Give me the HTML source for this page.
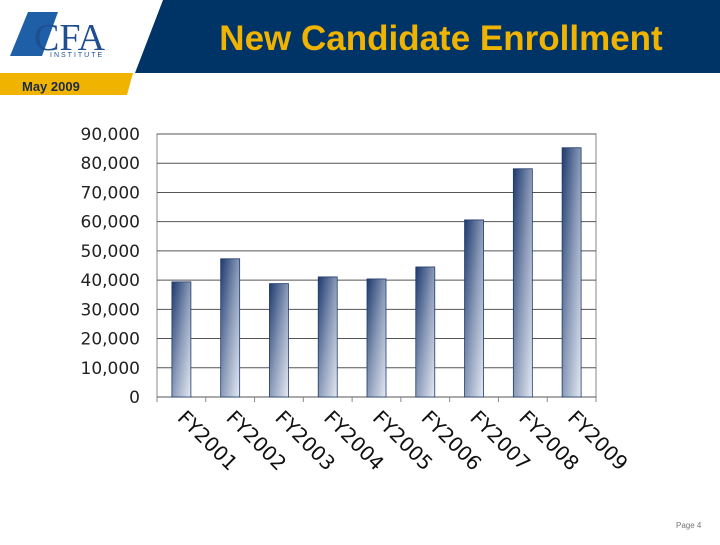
<!DOCTYPE html>
<html><head><meta charset="utf-8"><style>
body{margin:0;width:720px;height:540px;background:#fff;overflow:hidden;font-family:"Liberation Sans",sans-serif;}
</style></head><body>
<svg width="720" height="540" xmlns="http://www.w3.org/2000/svg">
<defs>
<linearGradient id="bg" x1="0" y1="0" x2="1" y2="1">
<stop offset="0" stop-color="#1f3a6e"/><stop offset="0.5" stop-color="#8a9ab8"/><stop offset="1" stop-color="#e4eaf3"/>
</linearGradient>
</defs>
<polygon points="163,0 720,0 720,73 135,73" fill="#003366"/>
<polygon points="0,73 133,73 127,95 0,95" fill="#f0b400"/>
<text x="22" y="91" font-size="13" font-weight="bold" fill="#1a2a4a">May 2009</text>
<g>
<polygon points="28,12 58,12 42,56 10,56" fill="#1f5fa8"/>
<text x="34" y="50" font-family="Liberation Serif,serif" font-size="38" fill="#1f4f90">CFA</text>
<text x="50" y="57" font-size="7" fill="#1f4f90" letter-spacing="2">INSTITUTE</text>
</g>
<text x="441" y="50" font-size="35" font-weight="bold" fill="#f0b400" text-anchor="middle">New Candidate Enrollment</text>
<text x="676" y="528" font-size="8" fill="#777">Page 4</text>
<rect x="157" y="134" width="439" height="263" fill="#fff" stroke="#888" stroke-width="1"/>
<g id="chart"></g>
</svg>
<script>
const categories=["FY2001","FY2002","FY2003","FY2004","FY2005","FY2006","FY2007","FY2008","FY2009"];
const values=[39400,47300,38800,41100,40400,44500,60600,78100,85300];
const yTicks=[0,10000,20000,30000,40000,50000,60000,70000,80000,90000];
const tickLabels=["0","10,000","20,000","30,000","40,000","50,000","60,000","70,000","80,000","90,000"];
const NS="http://www.w3.org/2000/svg";
const g=document.getElementById('chart');
const x0=157,x1=596,y0=397,y1=134,ymax=90000;
const yS=v=>y0-(v/ymax)*(y0-y1);
const cw=(x1-x0)/categories.length;
const xC=i=>x0+cw*(i+0.5);
function mk(t,a){const e=document.createElementNS(NS,t);for(const k in a)e.setAttribute(k,a[k]);g.appendChild(e);return e;}
yTicks.forEach((v,i)=>{
 const l=mk('line',{x1:x0,x2:x1,y1:yS(v),y2:yS(v),stroke:'#555','stroke-width':1});
 
 
 const t=mk('text',{x:140,y:yS(v)+6,'text-anchor':'end','font-family':'DejaVu Sans,sans-serif','font-size':17,fill:'#222'});
 t.textContent=tickLabels[i];
 
 
});
for(let i=0;i<=categories.length;i++){
 const l=mk('line',{x1:x0+cw*i,x2:x0+cw*i,y1:y0,y2:y0+5,stroke:'#888'});
 
 
}
categories.forEach((c,i)=>{
 const w=19,x=xC(i)-w/2;
 const r=mk('rect',{x:x,y:yS(values[i]),width:w,height:y0-yS(values[i]),fill:'url(#bg)',stroke:'#1f3a6e','stroke-width':0.8});
 
 
 const t=mk('text',{x:0,y:0,'font-family':'DejaVu Sans,sans-serif','font-size':20,fill:'#111',transform:'translate('+(xC(i)-5)+',419) rotate(45)'});
 t.textContent=c;
 
 
});
</script>
</body></html>
